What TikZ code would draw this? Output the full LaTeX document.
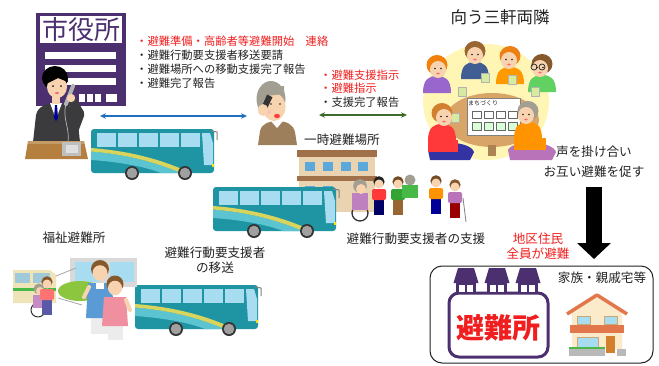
\documentclass[tikz,border=0pt]{standalone}
\usepackage{fontspec}
\setmainfont{Noto Sans CJK JP}
\usetikzlibrary{arrows.meta}

% palette
\definecolor{ink}{HTML}{222222}
\definecolor{hallpurple}{HTML}{4B2F6E}
\definecolor{busteal}{HTML}{1F95A4}
\definecolor{buswin}{HTML}{A8DCF0}
\definecolor{busswoosh}{HTML}{5CC3D1}
\definecolor{busyellow}{HTML}{D9D55C}
\definecolor{wheelgrey}{HTML}{A0A0A0}
\definecolor{linkblue}{HTML}{1F6FC0}
\definecolor{linkgreen}{HTML}{3E6B2A}
\definecolor{alertred}{HTML}{F01E1E}
\definecolor{skin}{HTML}{F8D3B0}
\definecolor{suit}{HTML}{3B3B3E}
\definecolor{deskbrown}{HTML}{B5803F}
\definecolor{sweater}{HTML}{9E7F5C}
\definecolor{greyhair}{HTML}{A29E92}
\definecolor{glow}{HTML}{FFF6B5}
\definecolor{tablewood}{HTML}{D9A468}
\definecolor{wallbeige}{HTML}{E9D3B0}
\definecolor{roofbrown}{HTML}{A0704A}
\definecolor{winblue}{HTML}{5BA8DA}
\definecolor{houseorange}{HTML}{E2774C}
\definecolor{housecream}{HTML}{FCEBCB}
\definecolor{frametan}{HTML}{C8A878}
\definecolor{vanbeige}{HTML}{EFE3B8}
\definecolor{bush}{HTML}{8CC63F}
\definecolor{apronblue}{HTML}{5B9BD5}
\definecolor{apronpink}{HTML}{F08FA0}
\definecolor{cupgreen}{HTML}{D6EBA0}

\tikzset{
  txt/.style={inner sep=0pt, text=ink, font=\fontsize{11.3}{14}\selectfont},
  captxt/.style={inner sep=0pt, text=ink, align=center, font=\fontsize{12.6}{15.5}\selectfont},
  alert/.style={text=alertred},
  duplex/.style={{Stealth[length=6pt,width=5.5pt]}-{Stealth[length=6pt,width=5.5pt]}, line width=1.3pt},
  bigdown/.style={line width=16pt, -{Triangle[length=16pt,width=33pt]}},
  pics/coach/.style={code={
    \fill[busteal, rounded corners=3pt] (0,0) rectangle (123,44);
    \begin{scope}
      \clip[rounded corners=3pt] (0,0) rectangle (123,44);
      \fill[busswoosh] (0,22.5) .. controls (36,25.5) and (64,33) .. (90,44) -- (70,44) .. controls (55,38) and (30,33) .. (0,31) -- cycle;
      \fill[busyellow] (0,19) .. controls (40,22) and (72,31) .. (100,44) -- (90,44) .. controls (64,33) and (36,25.5) .. (0,22.5) -- cycle;
    \end{scope}
    \foreach \wx in {6,27,48,69,90} \fill[buswin] (\wx,4) rectangle ++(19,14);
    \fill[buswin] (111,4) -- (119,4) -- (122,14) -- (122,36) -- (113,36) -- cycle;
    \fill[yellow!80!orange] (121,35) rectangle (123,38);
    \draw[gray, line width=1pt] (120,2) -- (126,3) -- (126,11);
    \foreach \cx in {41,94} {
      \fill[gray!40!black] (\cx,44) circle (7);
      \fill[wheelgrey] (\cx,44) circle (5.3);
    }
  }},
  pics/sitter/.style n args={3}{code={
    \fill[#2] (-14,26) .. controls (-14,12) and (-8,9) .. (0,9) .. controls (8,9) and (14,12) .. (14,26) -- cycle;
    \fill[#1] (0,-2) ellipse (10.5 and 10);
    \fill[skin] (#3,2.5) ellipse (8 and 8.5);
    \fill[ink] (#3-3,1.5) circle (0.9) (#3+3,1.5) circle (0.9);
    \fill[red!60] (#3,6.5) ellipse (1.8 and 1);
  }},
  pics/walker/.style n args={3}{code={
    \fill[#3] (-5,15) rectangle (5,32);
    \fill[#2, rounded corners=2pt] (-7,6) rectangle (7,17);
    \fill[#1] (0,-1.2) circle (5.6);
    \fill[skin] (0,1) circle (4.5);
  }}
}

\begin{document}
\begin{tikzpicture}[x=1pt, y=-1pt, line join=round]
\useasboundingbox (0,0) rectangle (659,365);

% ---------- city hall ----------
\fill[hallpurple] (36,13) rectangle (126,106);
\fill[white] (40,16) rectangle (122,43);
\node[inner sep=0pt, text=hallpurple, font=\fontsize{26}{26}\selectfont] (hall) at (81,30) {市役所};
\foreach \wy in {52,65,78} \fill[white] (45,\wy) rectangle (116,\wy+7);
\foreach \wx in {79,87,95} \fill[white] (\wx,94) rectangle ++(6,8);
\fill[white] (106,94) rectangle (117,102);

% official on the phone
\fill[suit] (33,142) -- (36,115) .. controls (38,106) and (46,104) .. (56,103) .. controls (66,104) and (74,106) .. (77,115) -- (80,142) -- cycle;
\fill[white] (50,103) -- (62,103) -- (56,119) -- cycle;
\fill[blue!60!black] (55,105) -- (57,105) -- (58,118) -- (56,121) -- (54,118) -- cycle;
\fill[skin] (52,96) rectangle (60,104);
\fill[black] (55,78) ellipse (13 and 12);
\fill[skin] (57,87) ellipse (10 and 11);
\fill[black] (45,76) -- (66,72) -- (68,82) -- (58,78) -- (46,84) -- cycle;
\fill[ink] (53,86) circle (1) (61,86) circle (1);
\fill[red!60] (57,93) ellipse (2 and 1);
\draw[suit, line width=9pt, line cap=round] (74,130) -- (80,114) -- (72,101);
\draw[gray!60, line width=4pt, line cap=round] (73,86) -- (66,104);
\fill[skin] (71,98) circle (4.2);
\draw[gray!55, line width=0.7pt] (66,104) .. controls (62,118) and (70,128) .. (68,142);
\fill[deskbrown] (28,141) -- (84,141) -- (88,159) -- (25,159) -- cycle;
\fill[deskbrown!80!white] (28,141) rectangle (84,144);
\fill[gray!50] (62,142) rectangle (81,156);
\fill[gray!25] (66,145) rectangle (78,153);

% ---------- elderly man on the phone ----------
\fill[sweater] (258,145) -- (260,131) .. controls (262,123) and (270,121) .. (277,121) .. controls (286,121) and (293,124) .. (295,132) -- (297,145) -- cycle;
\fill[white] (271,121) -- (283,121) -- (277,128) -- cycle;
\fill[greyhair] (271,99) ellipse (14.5 and 18);
\fill[skin] (274,107) ellipse (11.5 and 14);
\fill[greyhair] (262,88) -- (284,86) -- (284,94) -- (266,96) -- cycle;
\fill[ink] (271,104) circle (0.9) (280,104) circle (0.9);
\fill[red!75] (277,116) ellipse (3 and 2.2);
\fill[red!25] (269,112) circle (2.2);
\fill[black!80, rotate around={-25:(266,104)}] (263,95) rectangle (269,113);
\fill[skin] (263,110) ellipse (5 and 6);

% ---------- links ----------
\coordinate (hallR) at (100,116);
\coordinate (elderL) at (247,116);
\coordinate (elderR) at (319,115);
\coordinate (groupL) at (407,115);
\draw[duplex, linkblue] (hallR) -- (elderL);
\draw[duplex, linkgreen] (elderR) -- (groupL);

% ---------- message lists ----------
\node[txt, alert, anchor=west] (m1) at (136,41) {・避難準備・高齢者等避難開始\hspace{1em}連絡};
\node[txt, anchor=west] (m2) at (136,55) {・避難行動要支援者移送要請};
\node[txt, anchor=west] (m3) at (136,69) {・避難場所への移動支援完了報告};
\node[txt, anchor=west] (m4) at (136,83) {・避難完了報告};
\node[txt, alert, anchor=west] (n1) at (320,75) {・避難支援指示};
\node[txt, alert, anchor=west] (n2) at (320,88.5) {・避難指示};
\node[txt, anchor=west] (n3) at (320,102) {・支援完了報告};

% ---------- neighbours round the table ----------
\node[inner sep=0pt, text=ink, font=\fontsize{16.5}{16.5}\selectfont] (nbr) at (500,17) {向う三軒両隣};
\fill[glow] (486,102) ellipse (63 and 58);
\pic at (437,67) {sitter={orange!80!brown}{blue!35!violet!60}{1}};
\pic at (475,53) {sitter={brown!80!black}{cyan!40!blue!70!black}{0}};
\pic at (510,58) {sitter={orange!70!brown}{orange!80!yellow}{-1}};
\pic at (542,66) {sitter={brown!70!black}{green!55!gray!80}{-2}};
\draw[ink, line width=0.7pt] (534,67) circle (3) (542,67) circle (3);
\fill[tablewood] (492,120) ellipse (47 and 27);
\fill[tablewood!80!black] (488,145) rectangle (496,156);
\foreach \px/\py in {462/92,485/78,512/80,535/92,455/118} {
  \fill[cupgreen] (\px-4,\py-5) rectangle (\px+4,\py+4);
  \draw[gray!60, line width=0.4pt] (\px-4,\py-5) rectangle (\px+4,\py+4);
}
\fill[white] (467,98) rectangle (520,135);
\draw[gray, line width=0.5pt] (467,98) rectangle (520,135);
\node[inner sep=0pt, text=ink, font=\fontsize{6}{6}\selectfont] (plan) at (483,103) {まちづくり};
\foreach \gx in {472,484,496,508} {
  \draw[gray!80!black, line width=0.5pt] (\gx,111) rectangle ++(9,7);
  \draw[gray!80!black, line width=0.5pt, fill=green!15] (\gx,122) rectangle ++(9,8);
}
% front pair
\fill[blue!55!black!80] (428,150) .. controls (430,140) and (470,140) .. (474,152) -- (470,160) -- (430,160) -- cycle;
\pic at (442,115) {sitter={brown!70!orange}{red!70!pink}{2}};
\fill[red!70!pink] (428,140) rectangle (458,152);
\fill[violet!55] (508,150) .. controls (512,140) and (552,140) .. (556,152) -- (552,160) -- (510,160) -- cycle;
\pic at (528,113) {sitter={greyhair}{orange!85!yellow}{-2}};
\fill[orange!85!yellow] (514,138) rectangle (546,150);

\node[captxt, font=\fontsize{12.6}{20}\selectfont] (call) at (594,162) {声を掛け合い\\お互い避難を促す};

% ---------- down arrow to shelters ----------
\coordinate (dropTop) at (594,187);
\coordinate (dropTip) at (594,259);
\draw[bigdown] (dropTop) -- (dropTip);
\node[captxt, alert, font=\fontsize{12.6}{14.5}\selectfont] (all) at (538,246) {地区住民\\全員が避難};

% ---------- temporary shelter ----------
\node[captxt] (tmp) at (342,140) {一時避難場所};
\fill[wallbeige] (299,156) rectangle (375,212);
\fill[roofbrown] (297,150) rectangle (377,157);
\foreach \wx in {305,323,341,358} \fill[winblue] (\wx,162) rectangle ++(10,9);
\fill[roofbrown] (297,176) rectangle (377,181);
\foreach \wx in {305,323} \fill[winblue] (\wx,186) rectangle ++(10,9);

% ---------- buses ----------
\pic at (91,129) {coach};
\pic at (213,187) {coach};
\pic at (135,285) {coach};

% ---------- helpers with people needing support ----------
\draw[gray!40!black, line width=1.3pt] (360,213) circle (8);
\fill[violet!50] (352,193) rectangle (368,210);
\fill[greyhair] (360,186) circle (6.8);
\fill[skin] (361,189) circle (5);
\pic at (379,183) {walker={ink}{red!70!pink}{blue!40!black}};
\pic at (398,183) {walker={brown!60!black}{green!55!black!80}{brown!80!black}};
\fill[greyhair] (410,180) circle (5.5);
\fill[green!45!gray] (402,185) rectangle (418,198);
\pic at (436,182) {walker={brown!60!black}{orange!85!yellow}{blue!60!black}};
\pic at (455,186) {walker={brown!70!black}{violet!55}{red!60!black}};
\draw[gray, line width=0.8pt] (463,198) -- (466,222);
\node[captxt] (sup) at (416,239) {避難行動要支援者の支援};

% ---------- welfare shelter ----------
\node[captxt] (welf) at (74,238) {福祉避難所};
\fill[gray!30] (70,258) rectangle (137,287);
\fill[buswin] (75,262) rectangle (100,282);
\fill[buswin] (110,262) rectangle (134,282);
\fill[vanbeige] (13,270) -- (50,270) -- (56,275) -- (56,303) -- (13,303) -- cycle;
\fill[buswin!80!gray] (15,273) rectangle (30,283);
\fill[buswin!80!gray] (33,273) rectangle (50,283);
\fill[green!45!gray] (13,288) rectangle (56,291);
\draw[gray!70, line width=0.8pt] (56,276) -- (76,268);
\draw[gray!70, line width=0.8pt] (58,298) -- (82,305);
\fill[bush] (80,291) ellipse (22 and 10);
\fill[bush!80!black] (95,293) ellipse (10 and 7);
\draw[gray!40!black, line width=1pt] (38,310) circle (7);
\fill[violet!45] (33,295) rectangle (45,308);
\fill[greyhair] (39,289) circle (5.5);
\fill[skin] (40,291) circle (4);
\pic at (47,283) {walker={brown!70!black}{red!55!white}{blue!30!gray}};
% staff pair
\fill[gray!15] (91,316) rectangle (109,334);
\fill[apronblue] (88,283) -- (112,283) -- (114,318) -- (86,318) -- cycle;
\fill[white] (96,283) rectangle (104,289);
\draw[skin, line width=4pt, line cap=round] (89,287) -- (84,297);
\fill[brown!70!black] (100,269) circle (9);
\fill[skin] (100,273) ellipse (7.5 and 7.8);
\fill[gray!15] (108,324) rectangle (123,340);
\fill[apronpink] (104,297) -- (126,297) -- (128,326) -- (102,326) -- cycle;
\draw[skin, line width=4pt, line cap=round] (126,300) -- (130,310);
\fill[brown!70!black] (115,284) circle (8.5);
\fill[skin] (115,288) ellipse (7 and 7.3);

\node[captxt] (bus3cap) at (215,260) {避難行動要支援者\\の移送};

% ---------- shelter options ----------
\draw[ink, line width=1pt, rounded corners=12pt] (430,266) rectangle (653,363);
\draw[hallpurple, line width=3pt, fill=white, rounded corners=10pt] (449,293) rectangle (548,357);
\foreach \cx in {466,497,528} {
  \fill[hallpurple] (\cx-8,268) -- (\cx+8,268) -- (\cx+12.5,283) -- (\cx-12.5,283) -- cycle;
  \fill[hallpurple] (\cx-10,282) rectangle (\cx+10,294);
  \fill[white] (\cx-7,285) rectangle (\cx-1,292);
  \fill[white] (\cx+1,285) rectangle (\cx+7,292);
}
\node[inner sep=0pt, text=alertred, font=\fontsize{28}{28}\selectfont\bfseries] (hinan) at (498,328) {避難所};

\node[txt, font=\fontsize{12.6}{14}\selectfont] (kin) at (602,278) {家族・親戚宅等};
\fill[housecream] (572,312) -- (597,297) -- (622,312) -- (622,349) -- (572,349) -- cycle;
\draw[houseorange, line width=3.5pt] (567,314) -- (597,295) -- (627,314);
\foreach \wx in {577,604} {
  \fill[buswin] (\wx,316) rectangle ++(13,8);
  \draw[frametan, line width=0.6pt] (\wx,316) rectangle ++(13,8);
}
\fill[houseorange] (570,325) rectangle (624,333);
\fill[buswin] (577,337) rectangle (598,347);
\draw[frametan, line width=0.6pt] (577,337) rectangle (598,347);
\fill[brown!70!orange] (606,336) rectangle (615,353);
\fill[green!60!black!70] (569,347) rectangle (605,349);
\fill[gray!55] (569,349) rectangle (605,356);
\fill[gray!55] (617,349) rectangle (626,356);
\end{tikzpicture}
\end{document}
